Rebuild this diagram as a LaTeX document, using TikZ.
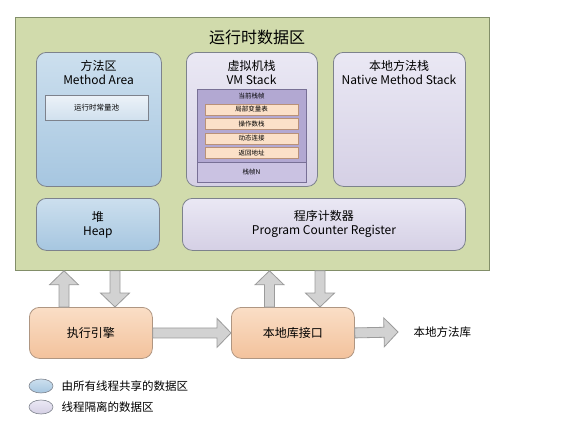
\documentclass[tikz,border=0pt]{standalone}
\usepackage{fontspec}
\setmainfont{Noto Sans CJK SC}
\usetikzlibrary{calc,shapes.geometric}
\definecolor{areagreen}{RGB}{209,219,172}
\definecolor{arealine}{RGB}{130,142,105}
\definecolor{sharedtop}{RGB}{204,223,238}
\definecolor{sharedbottom}{RGB}{166,198,224}
\definecolor{privtop}{RGB}{234,232,244}
\definecolor{privbottom}{RGB}{213,208,229}
\definecolor{boxline}{RGB}{125,130,140}
\definecolor{pooltop}{RGB}{236,242,248}
\definecolor{poolbottom}{RGB}{208,224,238}
\definecolor{framedark}{RGB}{178,168,210}
\definecolor{framelow}{RGB}{202,194,226}
\definecolor{frameline}{RGB}{120,112,150}
\definecolor{slotfill}{RGB}{251,224,200}
\definecolor{slotline}{RGB}{185,145,120}
\definecolor{enginetop}{RGB}{250,222,198}
\definecolor{enginebottom}{RGB}{243,194,156}
\definecolor{engineline}{RGB}{175,150,130}
\definecolor{arrowfill}{RGB}{210,210,210}
\definecolor{arrowline}{RGB}{155,155,155}
\tikzset{
  box/.style={draw=boxline, rounded corners=10pt, line width=0.8pt, inner sep=0pt, anchor=north west, align=center, font=\fontsize{12}{14}\selectfont},
  shared/.style={box, top color=sharedtop, bottom color=sharedbottom},
  private/.style={box, top color=privtop, bottom color=privbottom},
  engine/.style={box, top color=enginetop, bottom color=enginebottom, draw=engineline},
  caption/.style={align=center, font=\fontsize{12}{13.5}\selectfont},
  small/.style={font=\fontsize{6.5}{7}\selectfont},
  slot/.style={small, draw=slotline, fill=slotfill, inner sep=0pt, anchor=north west, minimum width=93pt, minimum height=11pt},
  key/.style={ellipse, draw=boxline, line width=0.6pt, minimum width=24pt, minimum height=14pt},
  keytext/.style={anchor=west, font=\fontsize{11.5}{13}\selectfont},
  blockarrow/.style={fill=arrowfill, draw=arrowline, line width=0.8pt}
}
\newcommand\fatarrow[2]{%
  \coordinate (fa-s) at (#1);
  \coordinate (fa-e) at (#2);
  \coordinate (fa-h) at ($(fa-e)!14pt!(fa-s)$);
  \filldraw[blockarrow] ($(fa-s)!5pt!90:(fa-e)$) -- ($(fa-h)!5pt!90:(fa-e)$) -- ($(fa-h)!14.5pt!90:(fa-e)$) -- (fa-e) -- ($(fa-h)!14.5pt!-90:(fa-e)$) -- ($(fa-h)!5pt!-90:(fa-e)$) -- ($(fa-s)!5pt!-90:(fa-e)$) -- cycle;}
\begin{document}
\begin{tikzpicture}[x=1pt,y=-1pt]
    \useasboundingbox (0,0) rectangle (586,434);

    \node[draw=arealine, fill=areagreen, line width=0.8pt, inner sep=0pt, anchor=north west, minimum width=474pt, minimum height=253pt] (rda) at (15,17) {};
    \node[font=\fontsize{16}{18}\selectfont] (rdatitle) at (257,37) {运行时数据区};

    \node[shared, minimum width=125pt, minimum height=134pt] (method) at (36,52) {};
    \node[caption] (methodtext) at (98.5,72.5) {方法区\\Method Area};
    \node[draw=boxline, top color=pooltop, bottom color=poolbottom, inner sep=0pt, anchor=north west, minimum width=103pt, minimum height=25pt, font=\fontsize{7.5}{8}\selectfont] (pool) at (45,95) {运行时常量池};

    \node[private, minimum width=131pt, minimum height=134pt] (vmstack) at (186,52) {};
    \node[caption] (vmtext) at (251.5,72.5) {虚拟机栈\\VM Stack};
    \node[draw=frameline, fill=framelow, inner sep=0pt, anchor=north west, minimum width=109pt, minimum height=93pt] (frame) at (197,89) {};
    \node[draw=frameline, fill=framedark, inner sep=0pt, anchor=north west, minimum width=109pt, minimum height=73pt] (current) at (197,89) {};
    \node[small] (currenttext) at (251.5,96) {当前栈帧};
    \node[slot] (locals) at (205,103.5) {局部变量表};
    \node[slot] (operands) at (205,118) {操作数栈};
    \node[slot] (dynlink) at (205,132.5) {动态连接};
    \node[slot] (retaddr) at (205,147) {返回地址};
    \node[small] (frametext) at (251.5,172) {栈帧N};

    \node[private, minimum width=132pt, minimum height=134pt] (native) at (333,52) {};
    \node[caption] (nativetext) at (399,72.5) {本地方法栈\\Native Method Stack};

    \node[shared, minimum width=123pt, minimum height=52pt] (heap) at (36,198) {堆\\Heap};
    \node[private, minimum width=283pt, minimum height=52pt] (pc) at (182,198) {程序计数器\\Program Counter Register};

    \node[engine, minimum width=123pt, minimum height=51pt] (exec) at (29,307) {执行引擎};
    \node[engine, minimum width=123pt, minimum height=51pt] (lib) at (231,307) {本地库接口};
    \node[keytext] (nlib) at (410,332) {本地方法库};

    \coordinate (execup) at ([xshift=35pt]exec.north west);
    \coordinate (execdown) at ([xshift=86pt]exec.north west);
    \coordinate (libup) at ([xshift=38.5pt]lib.north west);
    \coordinate (libdown) at ([xshift=89pt]lib.north west);
    \fatarrow{execup}{execup |- rda.south}
    \fatarrow{execdown |- rda.south}{execdown}
    \fatarrow{libup}{libup |- rda.south}
    \fatarrow{libdown |- rda.south}{libdown}
    \fatarrow{exec.east}{lib.west}
    \fatarrow{lib.east}{[xshift=-12pt]nlib.west}

    \node[key, top color=sharedtop, bottom color=sharedbottom] (sharedkey) at (41,386) {};
    \node[keytext] (sharedtext) at (58,386) {由所有线程共享的数据区};
    \node[key, top color=privtop, bottom color=privbottom] (privkey) at (41,407) {};
    \node[keytext] (privtext) at (58,407) {线程隔离的数据区};
\end{tikzpicture}
\end{document}
